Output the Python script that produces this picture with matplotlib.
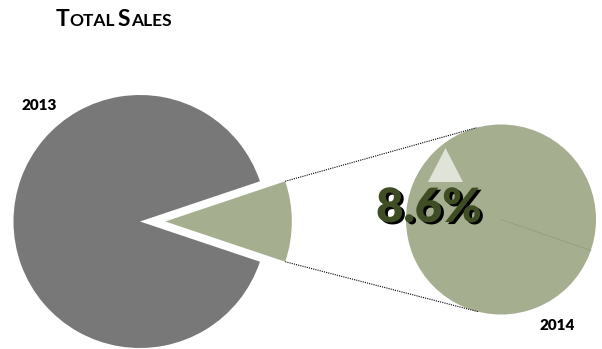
import matplotlib
matplotlib.use("Agg")
import matplotlib.pyplot as plt
import matplotlib.patheffects as pe
from matplotlib.offsetbox import TextArea, HPacker, AnchoredOffsetbox
from matplotlib.patches import Polygon
import numpy as np

# data
years = ['2013', '2014']
share = [89.7, 10.3]          # share of total sales shown in the main pie
detail = [100]                 # the 2014 slice expanded in the second pie
growth = 8.6                   # % growth label
colors = ['#787878', '#a6ae90']

W, H = 602, 349
plt.rcParams['font.family'] = ['Lato', 'DejaVu Sans']

fig = plt.figure(figsize=(W / 100, H / 100), dpi=100)
ax = fig.add_axes([0, 0, 1, 1])

# main pie (pixel coords, y measured from bottom)
c1 = (140, H - 221.5)
r1 = 126.5
off = 0.2 * r1
half = share[1] / 100 * 360 / 2
ax.pie(share[::-1], colors=colors[::-1], center=c1, radius=r1,
       startangle=-half, explode=[off, 0], wedgeprops=dict(linewidth=0))

# second pie
c2 = (501, H - 219.5)
r2 = 95
ax.pie(detail, colors=[colors[1]], center=c2, radius=r2, startangle=-19,
       wedgeprops=dict(linewidth=0))
a = np.radians(-19)
ax.plot([c2[0], c2[0] + r2 * np.cos(a)], [c2[1], c2[1] + r2 * np.sin(a)],
        color='#959d80', lw=0.6)

# pie() resets the limits, so set them afterwards
ax.set_xlim(0, W)
ax.set_ylim(0, H)
ax.set_aspect('equal')
ax.axis('off')

# connector lines
apex = (c1[0] + off, c1[1])
for sgn, ang in [(1, 105), (-1, -104)]:
    t = np.radians(sgn * half)
    x0, y0 = apex[0] + r1 * np.cos(t), apex[1] + r1 * np.sin(t)
    t2 = np.radians(ang)
    x1, y1 = c2[0] + r2 * np.cos(t2), c2[1] + r2 * np.sin(t2)
    ax.plot([x0, x1], [y0, y1], color='black', lw=0.8, ls=(0, (1, 1)))

# up arrow + growth label
tri = Polygon([(428, H - 182), (463, H - 182), (445.5, H - 148)], closed=True,
              color='#dfe3d8', lw=0)
ax.add_patch(tri)
ax.text(429, H - 208, f'{growth}%', fontsize=34, fontweight='heavy',
        color='#3f4d24', ha='center', va='center',
        path_effects=[pe.SimplePatchShadow(offset=(2, -1.5), shadow_rgbFace='black', alpha=1),
                      pe.Normal()])

# year labels
ax.text(22, H - 105, years[0], fontsize=11, fontweight='heavy', va='center', ha='left')
ax.text(540, H - 326, years[1], fontsize=11, fontweight='heavy', va='center', ha='left')

# title in small caps
parts = [('T', 16.5), ('OTAL', 12.5), ('\u2009S', 16.5), ('ALES', 12.5)]
boxes = [TextArea(s, textprops=dict(fontsize=fs, fontweight='bold',
                                    family=['Lato', 'DejaVu Sans']))
         for s, fs in parts]
pack = HPacker(children=boxes, align='baseline', pad=0, sep=0)
ab = AnchoredOffsetbox(loc='center left', child=pack, frameon=False,
                       bbox_to_anchor=(56 / W, 1 - 19 / H), bbox_transform=fig.transFigure,
                       borderpad=0, pad=0)
ax.add_artist(ab)

fig.savefig('out.png', dpi=100)
